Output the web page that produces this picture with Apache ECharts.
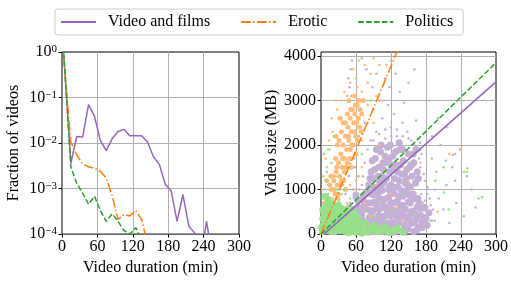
<!DOCTYPE html>
<html>
<head>
<meta charset="utf-8">
<title>Video duration</title>
<script src="https://cdn.jsdelivr.net/npm/echarts/dist/echarts.min.js"></script>
<style>
	html, body { margin: 0; padding: 0; background: #fff; }
	#chart { width: 511px; height: 281px; }
</style>
</head>
<body>
<div id="chart"></div>
<script>
	var FONT = '"Liberation Serif", "DejaVu Serif", serif';

	// left panel: fraction of videos per duration bin
	var durations = [3, 15, 25, 35, 45, 55, 65, 75, 85, 95, 105, 115, 125, 135, 145, 155, 165, 175, 185, 195, 205, 215, 225, 235, 245, 255];
	var fracVideo = [0.85, 0.0036, 0.014, 0.0135, 0.07, 0.039, 0.0114, 0.0068, 0.0124, 0.018, 0.020, 0.0145, 0.0145, 0.0145, 0.0105, 0.005, 0.0034, 0.00125, 0.0009, 0.00019, 0.00074, 0.00015, 0.000105, 0.00003, 0.00019, 0.00003];
	var fracErotic = [0.75, 0.0105, 0.0055, 0.0035, 0.003, 0.0028, 0.0024, 0.0017, 0.0007, 0.00021, 0.00027, 0.00025, 0.00033, 0.00021, 0.00006];
	var fracPolitics = [0.95, 0.003, 0.0013, 0.0008, 0.00045, 0.00068, 0.00033, 0.00019, 0.00028, 0.00019, 0.00012, 0.0001, 0.00014, 0.00007];

	// right panel: duration (min) vs size (MB)
	var videoCore = [
		[58,120],[62,340],[64,610],[67,80],[70,450],[72,820],[75,230],[77,560],[79,960],[81,40],[83,380],[85,700],[87,150],[89,520],[91,880],[93,290],[95,640],[97,60],[99,420],[101,760],
		[103,180],[105,980],[107,330],[109,600],[111,90],[113,470],[115,820],[117,250],[119,690],[121,30],[123,540],[125,910],[127,160],[129,400],[131,750],[133,280],[135,620],[137,70],[139,480],[141,850],
		[143,200],[145,560],[147,930],[149,120],[151,370],[153,700],[155,240],[157,520],[159,60],[161,800],[163,330],[165,610],[167,150],[170,430],[173,260],[176,580],[180,350],[68,260],[74,720],[86,900],
		[94,120],[108,780],[118,420],[128,60],[138,980],[148,310],[158,900],[168,700],[60,880],[112,250],[132,500],[142,40],[152,880],[162,440],[52,300],[55,560],[50,120],
		[57,420],[61,150],[63,760],[66,500],[69,50],[71,330],[73,620],[76,900],[78,180],[80,700],[82,250],[84,530],[88,380],[90,50],[92,720],[96,200],[98,860],[100,560],[102,320],[104,50],
		[106,690],[110,410],[114,150],[116,600],[120,900],[122,270],[124,700],[126,450],[130,120],[134,850],[136,380],[140,650],[144,400],[146,100],[150,720],[154,480],[156,850],[160,260],[164,90],[166,800],
		[169,580],[172,140],[175,380],[178,600],[182,200],[185,480],[116,1000],[96,960],[144,960],
		[82,1100],[86,1400],[90,1250],[93,1700],[96,1050],[99,1500],[102,1850],[105,1300],[108,1150],[111,1600],[114,1950],[117,1400],[120,1100],[123,1750],[126,1250],[129,1550],[132,1050],[135,1900],[138,1350],[141,1650],
		[144,1150],[147,1450],[150,1800],[153,1050],[156,1300],[159,1600],[162,1150],[165,1400],[100,1200],[118,1050],[128,1850],[146,1250],[88,1650],[110,1750],[136,1550],[152,1500],[124,1450],[106,1600],
		[84,1250],[92,1450],[95,1900],[98,1300],[104,1100],[107,1450],[112,1250],[116,1700],[121,1550],[125,1050],[131,1400],[134,1200],[140,1900],[143,1350],[149,1100],[155,1550],[158,1800],[163,1900],[167,1250],
		[103,2000],[119,2000],[134,2050],[90,1050]
	];
	var videoPts = [
		[45,1600],[48,1900],[50,2300],[46,2700],[52,3100],[49,3300],[47,3500],[51,3700],[53,3900],[55,2000],[44,2500],[57,1700],
		[65,2200],[75,2500],[85,2100],[90,2800],[95,2300],[100,3000],[105,2600],[110,2150],[115,2900],[120,2400],[125,2700],[130,2200],[135,3200],[140,2500],[100,3800],[110,3500],[120,3900],[128,3600],
		[150,3400],[160,3700],[142,2950],[148,2300],[155,2100],[163,2550],[170,2050],[88,3300],[78,3700],[70,3950],[95,3600],[117,3300],
		[178,1200],[182,900],[185,450],[190,1700],[195,300],[198,1400],[202,800],[205,2000],[210,550],[215,1100],[220,250],[225,1500],[232,700],[238,1900],[245,400],[250,1300],[258,1000],[265,600],
		[190,2200],[200,2600],[215,2400],[185,3000],[172,1800],[176,100],[188,650],[230,1200],[214,1650],[226,1780],
		[30,300],[35,600],[40,150],[45,450],[50,700],[52,250],[42,900],[38,1100],[48,1300],[55,1000],
		[172,900],[178,750],[183,1050],[188,300],[176,1350],[170,1500],[168,1700],[160,2000],[150,2150],[140,2200],[130,2350],[120,2200],[110,2350],[100,2250],[90,2100],
		[80,1900],[75,1600],[72,1300],[70,1100],[66,1000],[62,1300],[58,1500],[56,800],[46,650],[40,550],[186,800],[192,550],[180,150],[195,1000],[170,1900]
	];
	var eroticCore = [
		[8,250],[10,600],[12,400],[14,800],[16,550],[18,1000],[20,700],[22,1200],[24,900],[26,1400],[28,1100],[30,1600],[32,1300],[34,1800],[36,1500],[38,2000],[40,1700],[42,2200],[44,1900],[46,2400],
		[48,2100],[50,2600],[52,2300],[54,2800],[56,2500],[58,2700],[60,2200],[62,2900],[64,2600],[66,2400],[30,900],[35,1200],[40,1400],[45,1600],[50,1900],[25,1700],[20,1300],[35,2300],[45,2700],[55,2000],
		[15,1100],[28,2000],[60,1800],[70,2700],[65,3000],[5,300],[42,1000],[52,1500],[38,2500],[58,3100],
		[11,800],[13,300],[17,1300],[19,500],[23,1000],[27,1500],[29,800],[31,2100],[33,1100],[37,1700],[39,1200],[41,2500],[43,1500],[47,2200],[49,1700],[51,2800],[53,2000],[57,2300],[59,2900],[61,2500],
		[63,2100],[67,2800],[69,2300],[72,3000],[26,2200],[33,2600],[48,3000],[10,1200],[6,700],[22,600]
	];
	var eroticPts = [
		[5,1800],[10,1500],[15,1900],[20,2300],[25,3000],[30,2600],[40,3200],[50,3400],[55,3700],[60,3500],[65,3900],[70,3200],[75,3800],[80,3400],[85,3600],[90,3950],[95,3100],[100,3800],
		[70,2100],[80,2900],[90,2500],[100,2000],[110,1400],[120,900],[130,600],[150,1200],[170,1600],[200,500],[220,1800],[240,1900],[250,1400],[60,1200],[75,700],[85,400],[95,1100],[140,300],[105,3000],[112,3800],
		[2,1000],[4,1300],[8,1700],[14,2100],[18,2600],[28,2800],[35,3000],[45,3100],[62,3300],[75,3000],[80,2500],[70,1500],[65,1300],[58,1000],[50,1100],[45,700],[38,600],[30,400],[25,200],[20,100]
	];
	var politicsCore = [
		[2,50],[4,200],[6,400],[8,100],[10,300],[12,500],[14,150],[16,350],[18,50],[20,250],[22,450],[24,120],[26,380],[28,200],[30,520],[32,80],[34,300],[36,450],[38,150],[40,350],
		[42,60],[44,250],[46,480],[48,130],[50,300],[52,50],[54,200],[56,400],[58,100],[60,250],[3,550],[9,650],[15,600],[25,600],[35,580],[45,560],[5,300],[21,120],[33,180],[47,30],
		[65,80],[72,180],[80,50],[88,150],[95,60],[105,130],[115,40],[125,100],[62,380],[70,20],
		[1,150],[3,350],[5,480],[7,250],[9,80],[11,420],[13,200],[17,480],[19,300],[23,50],[27,500],[29,100],[31,350],[37,250],[39,500],[41,150],[43,420],[49,220],[51,450],[53,120],
		[55,320],[57,480],[59,40],[61,180],[64,300],[68,120],[76,250],[84,100],[92,200],[100,60],[110,150],[120,50],[130,120],[140,40],[12,750],[20,680],[30,650],[7,850]
	];
	var politicsPts = [
		[3,800],[6,1000],[8,1200],[10,1400],[12,900],[15,1100],[18,1600],[20,800],[25,1300],[28,1000],[30,750],[35,900],[5,1800],[12,1900],[22,2200],[40,1000],[50,800],[60,650],
		[75,500],[90,400],[100,700],[110,300],[120,550],[135,200],[140,900],[160,450],[175,700],[190,300],[210,1500],[230,1800],[245,1400],[270,800],[85,3000],[70,1800],[150,1600],[196,1200],
		[211,935],[276,830],[251,1480],[219,550]
	];

	// fitted lines (end points)
	var fitVideo = [[5, 0], [300, 3420]];
	var fitErotic = [[0, 0], [140, 4400]];
	var fitPolitics = [[0, 0], [300, 3850]];

	var colVideo = '#9467bd', colErotic = '#ff7f0e', colPolitics = '#2ca02c';
	var dotVideo = '#c5b0d5', dotErotic = '#ffbb78', dotPolitics = '#98df8a';
	var dashDot = [9.6, 2.4, 1.5, 2.4], dashed = [5.5, 2.4];

	function pairs(xs, ys) {
		var out = [];
		for (var i = 0; i < ys.length; i++) {
			out.push([xs[i], ys[i]]);
		}
		return out;
	}

	function durationAxis(idx) {
		return {
			type: 'value', gridIndex: idx, min: 0, max: 300, interval: 60,
			name: 'Video duration (min)', nameLocation: 'middle', nameGap: 22,
			nameTextStyle: { fontFamily: FONT, fontSize: 16, color: '#000' },
			axisLine: { show: false },
			axisTick: { show: true, length: 3.5, lineStyle: { color: '#000' } },
			axisLabel: { fontFamily: FONT, fontSize: 16, color: '#000', margin: 5 },
			splitLine: { show: true, showMinLine: false, showMaxLine: false, lineStyle: { color: '#b0b0b0', width: 1 } }
		};
	}

	function dots(name, size, data, color) {
		return {
			name: name, type: 'scatter', xAxisIndex: 1, yAxisIndex: 1,
			symbolSize: size, data: data,
			itemStyle: { color: color, opacity: 1 }
		};
	}

	var chart = echarts.init(document.getElementById('chart'));

	var option = {
		animation: false,
		backgroundColor: '#fff',
		legend: {
			data: ['Video and films', 'Erotic', 'Politics'],
			left: 55, top: 9,
			padding: [5, 10, 5, 5],
			itemWidth: 35, itemHeight: 14, itemGap: 30,
			itemStyle: { opacity: 0 },
			borderColor: '#cccccc', borderWidth: 1, borderRadius: 3,
			textStyle: { fontFamily: FONT, fontSize: 16, color: '#000', padding: [0, 0, 0, 7] }
		},
		grid: [
			{ left: 62, top: 52, width: 177, height: 188, show: true, borderColor: '#000', borderWidth: 1 },
			{ left: 321, top: 52, width: 178, height: 188, show: true, borderColor: '#000', borderWidth: 1 }
		],
		xAxis: [durationAxis(0), durationAxis(1)],
		yAxis: [
			{
				type: 'log', gridIndex: 0, logBase: 10, min: 0.0001, max: 1,
				name: 'Fraction of videos', nameLocation: 'middle', nameGap: 40,
				nameTextStyle: { fontFamily: FONT, fontSize: 16, color: '#000' },
				axisLine: { show: false },
				axisTick: { show: true, length: 3.5, lineStyle: { color: '#000' } },
				axisLabel: {
					margin: 5,
					formatter: function(v) {
						var e = Math.round(Math.log(v) / Math.LN10);
						return '{b|10}{s|' + (e < 0 ? '\u2212' + (-e) : e) + '}';
					},
					rich: {
						b: { fontFamily: FONT, fontSize: 16, color: '#000' },
						s: { fontFamily: FONT, fontSize: 11, color: '#000', verticalAlign: 'top' }
					}
				},
				splitLine: { show: true, showMinLine: false, showMaxLine: false, lineStyle: { color: '#b0b0b0', width: 1 } }
			},
			{
				type: 'value', gridIndex: 1, min: 0, max: 4090, interval: 1000,
				name: 'Video size (MB)', nameLocation: 'middle', nameGap: 37,
				nameTextStyle: { fontFamily: FONT, fontSize: 16, color: '#000' },
				axisLine: { show: false },
				axisTick: { show: true, length: 3.5, lineStyle: { color: '#000' } },
				axisLabel: {
					fontFamily: FONT, fontSize: 16, color: '#000', margin: 5, showMaxLabel: false,
					formatter: function(v) { return String(v); }
				},
				splitLine: { show: true, showMinLine: false, showMaxLine: false, lineStyle: { color: '#b0b0b0', width: 1 } }
			}
		],
		series: [
			// left panel lines
			{ name: 'Video and films', type: 'line', xAxisIndex: 0, yAxisIndex: 0, symbol: 'none', clip: true,
				data: pairs(durations, fracVideo), lineStyle: { color: colVideo, width: 1.5 }, itemStyle: { color: colVideo } },
			{ name: 'Erotic', type: 'line', xAxisIndex: 0, yAxisIndex: 0, symbol: 'none', clip: true,
				data: pairs(durations, fracErotic), lineStyle: { color: colErotic, width: 1.5, type: dashDot }, itemStyle: { color: colErotic } },
			{ name: 'Politics', type: 'line', xAxisIndex: 0, yAxisIndex: 0, symbol: 'none', clip: true,
				data: pairs(durations, fracPolitics), lineStyle: { color: colPolitics, width: 1.5, type: dashed }, itemStyle: { color: colPolitics } },

			// right panel scatter
			dots('video core', 7, videoCore, dotVideo),
			dots('video pts', 2.5, videoPts, dotVideo),
			dots('erotic core', 5, eroticCore, dotErotic),
			dots('erotic pts', 2.5, eroticPts, dotErotic),
			dots('politics core', 7, politicsCore, dotPolitics),
			dots('politics pts', 2.5, politicsPts, dotPolitics),

			// right panel fits
			{ name: 'Video and films', type: 'line', xAxisIndex: 1, yAxisIndex: 1, symbol: 'none', clip: true, z: 5,
				data: fitVideo, lineStyle: { color: colVideo, width: 1.5 } },
			{ name: 'Erotic', type: 'line', xAxisIndex: 1, yAxisIndex: 1, symbol: 'none', clip: true, z: 5,
				data: fitErotic, lineStyle: { color: colErotic, width: 1.5, type: dashDot } },
			{ name: 'Politics', type: 'line', xAxisIndex: 1, yAxisIndex: 1, symbol: 'none', clip: true, z: 5,
				data: fitPolitics, lineStyle: { color: colPolitics, width: 1.5, type: dashed } }
		]
	};

	chart.setOption(option);
</script>
</body>
</html>
